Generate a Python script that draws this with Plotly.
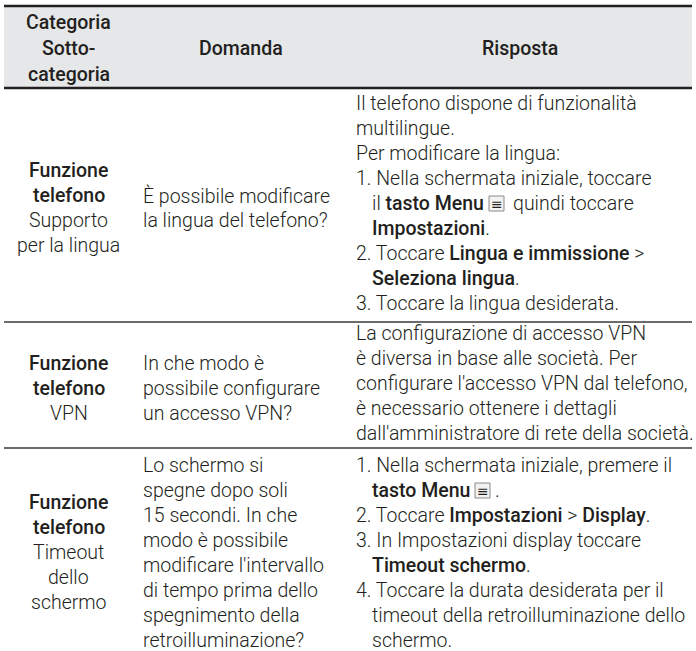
import plotly.graph_objects as go

# ---------------- data ----------------
header_cat = ["Categoria", "Sotto-", "categoria"]
header_question = "Domanda"
header_answer = "Risposta"

category_lines = [
    ["<b>Funzione</b>", "<b>telefono</b>", "Supporto", "per la lingua"],
    ["<b>Funzione</b>", "<b>telefono</b>", "VPN"],
    ["<b>Funzione</b>", "<b>telefono</b>", "Timeout", "dello", "schermo"],
]

question_lines = [
    ["È possibile modificare", "la lingua del telefono?"],
    ["In che modo è", "possibile configurare", "un accesso VPN?"],
    ["Lo schermo si", "spegne dopo soli", "15 secondi. In che", "modo è possibile",
     "modificare l'intervallo", "di tempo prima dello", "spegnimento della",
     "retroilluminazione?"],
]

# (indented continuation?, text) ; {ICON} marks the menu-key symbol
answer_lines = [
    [(0, "Il telefono dispone di funzionalità"),
     (0, "multilingue."),
     (0, "Per modificare la lingua:"),
     (0, "1. Nella schermata iniziale, toccare"),
     (1, "il <b>tasto Menu</b>{ICON}quindi toccare"),
     (1, "<b>Impostazioni</b>."),
     (0, "2. Toccare <b>Lingua e immissione</b> >"),
     (1, "<b>Seleziona lingua</b>."),
     (0, "3. Toccare la lingua desiderata.")],
    [(0, "La configurazione di accesso VPN"),
     (0, "è diversa in base alle società. Per"),
     (0, "configurare l'accesso VPN dal telefono,"),
     (0, "è necessario ottenere i dettagli"),
     (0, "dall'amministratore di rete della società.")],
    [(0, "1. Nella schermata iniziale, premere il"),
     (1, "<b>tasto Menu</b>{ICON}."),
     (0, "2. Toccare <b>Impostazioni</b> > <b>Display</b>."),
     (0, "3. In Impostazioni display toccare"),
     (1, "<b>Timeout schermo</b>."),
     (0, "4. Toccare la durata desiderata per il"),
     (1, "timeout della retroilluminazione dello"),
     (1, "schermo.")],
]

# ---------------- layout / style ----------------
W, H = 696, 651
FONT = "Roboto"
FS = 19.5
LH = 25
TXT = "#231f20"
BOLD = '<span style="font-weight:500">'

X_LEFT, X_RIGHT = 4, 692
COL_DIV = [133, 348]
CAT_CX = 68.5
Q_X = 141
A_X = 354
A_INDENT = 370
HEAD_TOP, HEAD_BOT = 6, 88
ROW_EDGES = [88, 322, 448, 651]
ANS_START = [103, 333, 465]
# icon box left x, x where following text starts
ICON_POS = {(0, 4): (489, 511), (2, 1): (475, 493)}


def fmt(s):
    return s.replace("<b>", BOLD).replace("</b>", "</span>")


fig = go.Figure()
fig.update_xaxes(range=[0, W], visible=False, fixedrange=True)
fig.update_yaxes(range=[H, 0], visible=False, fixedrange=True)

shapes = []
annos = []


def text(x, y, s, xanchor="left", weight=300):
    annos.append(dict(x=x, y=y, xref="x", yref="y", text=fmt(s), showarrow=False,
                      xanchor=xanchor, yanchor="middle",
                      font=dict(family=FONT, size=FS, color=TXT, weight=weight)))


# header background + rules
shapes.append(dict(type="rect", x0=X_LEFT, x1=X_RIGHT, y0=HEAD_TOP, y1=HEAD_BOT,
                   fillcolor="#e6e7e8", line_width=0, layer="below"))
shapes.append(dict(type="line", x0=X_LEFT, x1=X_RIGHT, y0=HEAD_TOP, y1=HEAD_TOP,
                   line=dict(color="#231f20", width=2.5)))
shapes.append(dict(type="line", x0=X_LEFT, x1=X_RIGHT, y0=HEAD_BOT, y1=HEAD_BOT,
                   line=dict(color="#231f20", width=2.5)))
for yl in ROW_EDGES[1:-1]:
    shapes.append(dict(type="line", x0=X_LEFT, x1=X_RIGHT, y0=yl, y1=yl,
                       line=dict(color="#3a3a3a", width=1.3)))

# header text
head_mid = (HEAD_TOP + HEAD_BOT) / 2 + 1
for i, s in enumerate(header_cat):
    text(CAT_CX, head_mid + (i - (len(header_cat) - 1) / 2) * 26, s, "center", 500)
text((COL_DIV[0] + COL_DIV[1]) / 2, head_mid, header_question, "center", 500)
text((COL_DIV[1] + X_RIGHT) / 2, head_mid, header_answer, "center", 500)

# body
for r in range(len(answer_lines)):
    y0 = ANS_START[r]
    for k, (ind, s) in enumerate(answer_lines[r]):
        y = y0 + k * LH
        x = A_INDENT if ind else A_X
        if "{ICON}" in s:
            left, right = s.split("{ICON}")
            ix, tx = ICON_POS[(r, k)]
            shapes.append(dict(type="rect", x0=ix, x1=ix + 15, y0=y - 7, y1=y + 8,
                               fillcolor="#f2f2f2", line=dict(color="#8a8a8a", width=1)))
            annos.append(dict(x=ix + 7.5, y=y + 0.5, xref="x", yref="y", text="≡",
                              showarrow=False, xanchor="center", yanchor="middle",
                              font=dict(family="DejaVu Sans", size=14, color=TXT)))
            text(x, y, left)
            text(tx, y, right)
        else:
            text(x, y, s)
    center = (ROW_EDGES[r] + ROW_EDGES[r + 1]) / 2 + 3
    cl = category_lines[r]
    for k, s in enumerate(cl):
        text(CAT_CX, center + (k - (len(cl) - 1) / 2) * LH, s, "center")
    ql = question_lines[r]
    for k, s in enumerate(ql):
        text(Q_X, center + (k - (len(ql) - 1) / 2) * LH, s)

fig.update_layout(width=W, height=H, margin=dict(l=0, r=0, t=0, b=0),
                  paper_bgcolor="white", plot_bgcolor="white",
                  shapes=shapes, annotations=annos, showlegend=False)
# remove the default 8px page margin so the figure fills the window exactly
fig.write_html("out.html",
               config={"displayModeBar": False, "staticPlot": True},
               post_script="document.body.style.margin='0';"
                           "document.body.style.overflow='hidden';")
